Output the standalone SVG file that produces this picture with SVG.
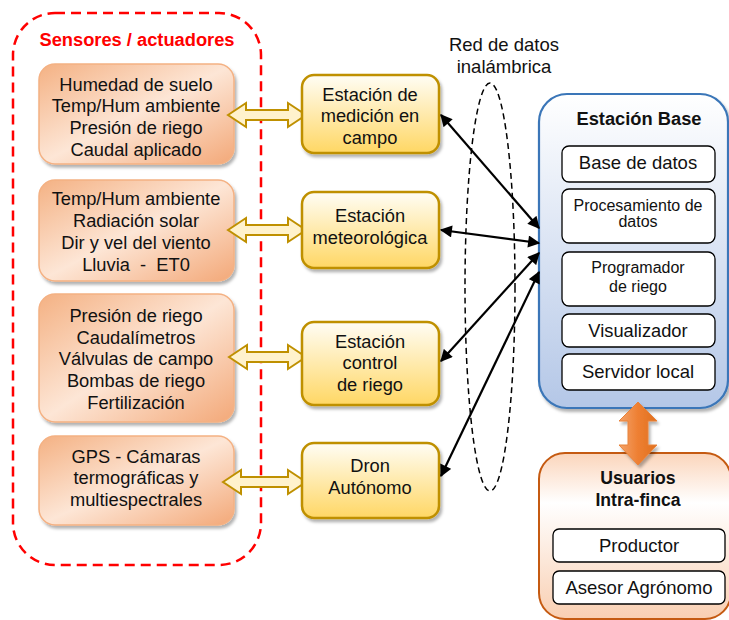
<svg xmlns="http://www.w3.org/2000/svg" width="729" height="620" viewBox="0 0 729 620">
<defs>
<linearGradient id="gOr" x1="0" y1="0" x2="1" y2="1">
<stop offset="0" stop-color="#f4b183"/>
<stop offset="0.5" stop-color="#fde6d6"/>
<stop offset="1" stop-color="#f3a878"/>
</linearGradient>
<linearGradient id="gYe" x1="0" y1="0" x2="0" y2="1">
<stop offset="0" stop-color="#fffdf5"/>
<stop offset="1" stop-color="#ffd764"/>
</linearGradient>
<linearGradient id="gBl" x1="0" y1="0" x2="0" y2="1">
<stop offset="0" stop-color="#ffffff"/>
<stop offset="1" stop-color="#b4c7e7"/>
</linearGradient>
<linearGradient id="gUs" x1="0" y1="0" x2="0" y2="1">
<stop offset="0" stop-color="#fbd5bb"/>
<stop offset="0.3" stop-color="#ffffff"/>
<stop offset="1" stop-color="#f9cfb2"/>
</linearGradient>
<linearGradient id="gArr" x1="0" y1="0" x2="1" y2="0">
<stop offset="0" stop-color="#f4a36a"/>
<stop offset="0.5" stop-color="#ee7f32"/>
<stop offset="1" stop-color="#e0701e"/>
</linearGradient>
<filter id="sh" x="-10%" y="-10%" width="130%" height="130%">
<feDropShadow dx="2" dy="3" stdDeviation="1.5" flood-color="#000" flood-opacity="0.3"/>
</filter>
<marker id="ah" viewBox="0 0 10 10" refX="9" refY="5" markerWidth="6" markerHeight="5.5" orient="auto-start-reverse" markerUnits="strokeWidth">
<path d="M0,0 L10,5 L0,10 z" fill="#000"/>
</marker>
<style>
text{font-family:"Liberation Sans",Arial,sans-serif;fill:#111;text-anchor:middle}
.t16{font-size:18.3px}
.t15{font-size:18.5px}
.t13{font-size:16px}
.b{font-weight:bold}
.or{fill:url(#gOr);stroke:#f4b183;stroke-width:1.5;filter:url(#sh)}
.ye{fill:url(#gYe);stroke:#bf9000;stroke-width:2.5;filter:url(#sh)}
.wb{fill:#fff;stroke:#000;stroke-width:1.3}
.yar{fill:#fff2cc;stroke:#bf9000;stroke-width:2}
.conn{stroke:#000;stroke-width:2.2;fill:none;marker-start:url(#ah);marker-end:url(#ah)}
</style>
</defs>
<rect width="729" height="620" fill="#fff"/>

<g id="sensores">
<rect x="13" y="13" width="248" height="552" rx="42" fill="none" stroke="#ff0000" stroke-width="2.5" stroke-dasharray="10,6"/>
<text x="137" y="46" class="t16 b" style="fill:#ff0000">Sensores / actuadores</text>
</g>

<g id="s1">
<rect x="39" y="64" width="195" height="100" rx="16" class="or"/>
<text x="136" y="91" class="t16">Humedad de suelo</text>
<text x="136" y="112" class="t16">Temp/Hum ambiente</text>
<text x="136" y="134" class="t16">Presión de riego</text>
<text x="136" y="156" class="t16">Caudal aplicado</text>
</g>
<g id="s2">
<rect x="39" y="180" width="195" height="101" rx="16" class="or"/>
<text x="136" y="205" class="t16">Temp/Hum ambiente</text>
<text x="136" y="227" class="t16">Radiación solar</text>
<text x="136" y="249" class="t16">Dir y vel del viento</text>
<text x="136" y="271" class="t16" xml:space="preserve">Lluvia  -  ET0</text>
</g>
<g id="s3">
<rect x="39" y="294" width="195" height="128" rx="16" class="or"/>
<text x="136" y="322" class="t16">Presión de riego</text>
<text x="136" y="344" class="t16">Caudalímetros</text>
<text x="136" y="365" class="t16">Válvulas de campo</text>
<text x="136" y="387" class="t16">Bombas de riego</text>
<text x="136" y="409" class="t16">Fertilización</text>
</g>
<g id="s4">
<rect x="39" y="436" width="195" height="89" rx="16" class="or"/>
<text x="136" y="463" class="t16">GPS - Cámaras</text>
<text x="136" y="484" class="t16">termográficas y</text>
<text x="136" y="506" class="t16">multiespectrales</text>
</g>

<g id="yarrows">
<path class="yar" d="M228,115 L246,103 L246,110 L288,110 L288,103 L306,115 L288,127 L288,120 L246,120 L246,127 Z"/>
<path class="yar" d="M228,230 L246,218 L246,225 L288,225 L288,218 L306,230 L288,242 L288,235 L246,235 L246,242 Z"/>
<path class="yar" d="M229,357 L247,345 L247,352 L288,352 L288,345 L306,357 L288,369 L288,362 L247,362 L247,369 Z"/>
<path class="yar" d="M223,482 L241,470 L241,477 L288,477 L288,470 L306,482 L288,494 L288,487 L241,487 L241,494 Z"/>
</g>

<g id="e1">
<rect x="302" y="75" width="137" height="78" rx="12" class="ye"/>
<text x="370" y="101" class="t16">Estación de</text>
<text x="370" y="122" class="t16">medición en</text>
<text x="370" y="144" class="t16">campo</text>
</g>
<g id="e2">
<rect x="302" y="192" width="137" height="76" rx="12" class="ye"/>
<text x="370" y="222" class="t16">Estación</text>
<text x="370" y="244" class="t16">meteorológica</text>
</g>
<g id="e3">
<rect x="302" y="322" width="137" height="83" rx="12" class="ye"/>
<text x="370" y="348" class="t16">Estación</text>
<text x="370" y="369" class="t16">control</text>
<text x="370" y="391" class="t16">de riego</text>
</g>
<g id="e4">
<rect x="302" y="443" width="137" height="75" rx="12" class="ye"/>
<text x="370" y="472" class="t16">Dron</text>
<text x="370" y="494" class="t16">Autónomo</text>
</g>

<g id="red">
<ellipse cx="490" cy="287" rx="25" ry="204" fill="none" stroke="#000" stroke-width="1.5" stroke-dasharray="6,4"/>
<text x="504" y="51" class="t15">Red de datos</text>
<text x="504" y="73" class="t15">inalámbrica</text>
</g>

<g id="base">
<rect x="539" y="94" width="189" height="314" rx="28" fill="url(#gBl)" stroke="#3a76b8" stroke-width="2.2" filter="url(#sh)"/>
<text x="639" y="125" class="t16 b">Estación Base</text>
<rect x="562" y="146" width="153" height="36" rx="7" class="wb"/>
<text x="638" y="169" class="t15">Base de datos</text>
<rect x="562" y="189" width="153" height="54" rx="7" class="wb"/>
<text x="638" y="211" class="t13">Procesamiento de</text>
<text x="638" y="227" class="t13">datos</text>
<rect x="562" y="252" width="153" height="54" rx="7" class="wb"/>
<text x="638" y="273" class="t13">Programador</text>
<text x="638" y="292" class="t13">de riego</text>
<rect x="562" y="314" width="153" height="33" rx="7" class="wb"/>
<text x="638" y="337" class="t16">Visualizador</text>
<rect x="562" y="354" width="153" height="36" rx="7" class="wb"/>
<text x="638" y="378" class="t15">Servidor local</text>
</g>

<g id="usuarios">
<rect x="539" y="453" width="192" height="166" rx="26" fill="url(#gUs)" stroke="#c55a11" stroke-width="2"/>
<text x="638" y="484" class="b" style="font-size:17.6px">Usuarios</text>
<text x="638" y="506" class="b" style="font-size:17.6px">Intra-finca</text>
<rect x="553" y="529" width="172" height="33" rx="6" class="wb"/>
<text x="639" y="552" class="t15">Productor</text>
<rect x="553" y="571" width="172" height="33" rx="6" class="wb"/>
<text x="639" y="594" class="t15">Asesor Agrónomo</text>
</g>

<g id="connectors">
<path d="M638,402 L657,421 L648,421 L648,445 L657,445 L638,465 L619,445 L628,445 L628,421 L619,421 Z" fill="url(#gArr)" stroke="#e8823a" stroke-width="1" filter="url(#sh)"/>
<line class="conn" x1="441" y1="115" x2="539" y2="228"/>
<line class="conn" x1="441" y1="230" x2="539" y2="243"/>
<line class="conn" x1="441" y1="361" x2="539" y2="253"/>
<line class="conn" x1="441" y1="476" x2="539" y2="272"/>
</g>
</svg>
